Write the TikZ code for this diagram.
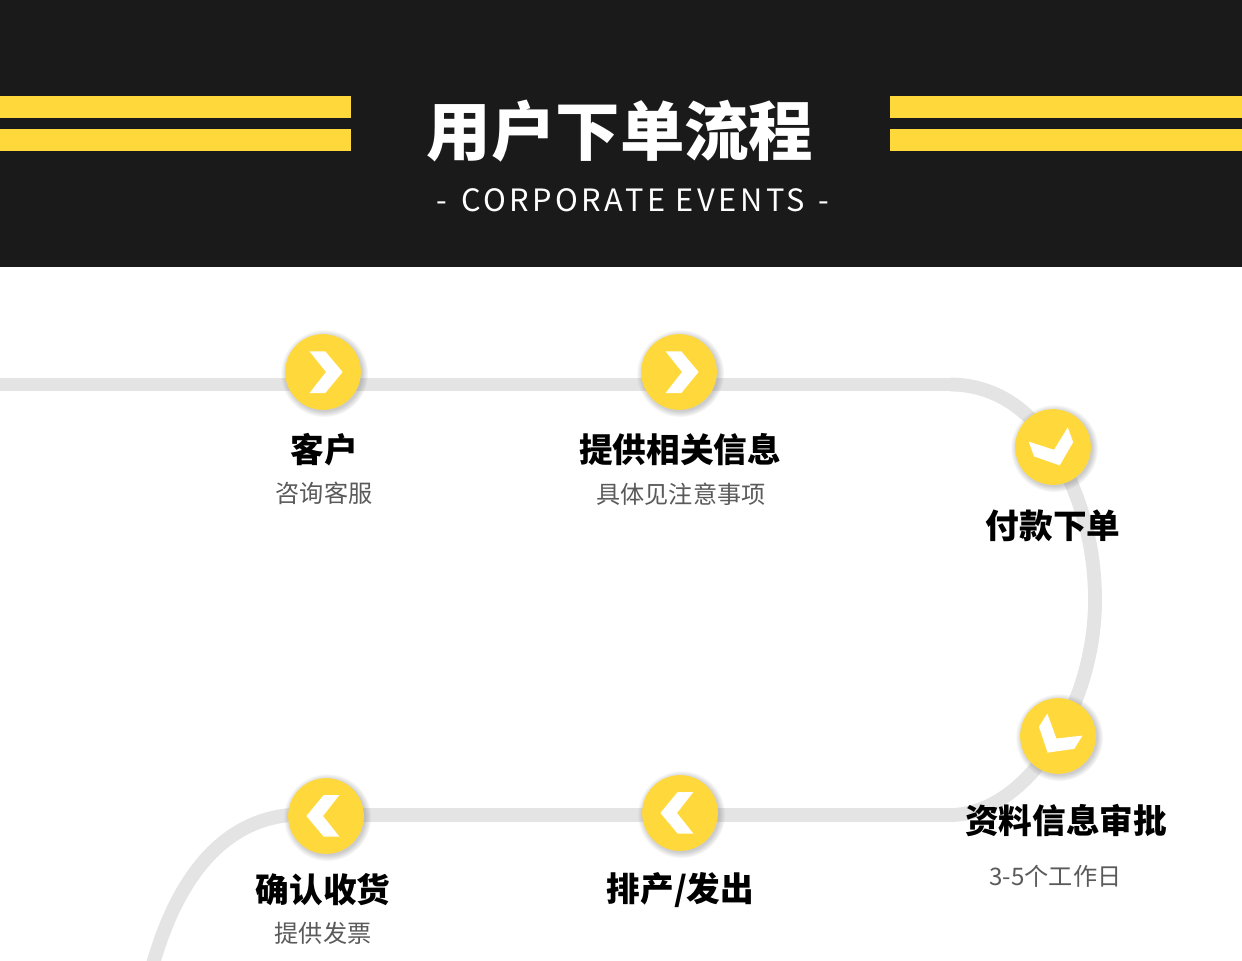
\documentclass[tikz,border=0pt]{standalone}
\usepackage{fontspec}
\setmainfont{Noto Sans CJK SC}
\usetikzlibrary{backgrounds,shadows}
\definecolor{bandblack}{HTML}{1A1A1A}
\definecolor{signyellow}{HTML}{FFD93B}
\definecolor{trackgray}{HTML}{E4E4E4}
\definecolor{notegray}{HTML}{5A5A5A}
\tikzset{
    stopdot/.style={circle, fill=signyellow, minimum size=43.1pt, inner sep=0pt,
        circular drop shadow={shadow xshift=0.6pt, shadow yshift=-0.6pt, shadow scale=1.16, opacity=0.4}},
    stoptitle/.style={font=\fontsize{19.15}{20}\selectfont\bfseries, text=black, inner sep=0pt},
    stopnote/.style={font=\fontsize{13.75}{15}\selectfont, text=notegray, inner sep=0pt},
    track/.style={line width=7.9pt, draw=trackgray},
    chevron/.style={fill=white},
}
\begin{document}
\begin{tikzpicture}[x=0.02cm, y=-0.02cm]
    \useasboundingbox (0,0) rectangle (1242,961);
    \clip (0,0) rectangle (1242,961);

    % Title band
    \fill[bandblack] (0,0) rectangle (1242,267);
    \fill[signyellow] (0,96) rectangle (351,118);
    \fill[signyellow] (0,129) rectangle (351,151);
    \fill[signyellow] (890,96) rectangle (1242,118);
    \fill[signyellow] (890,129) rectangle (1242,151);
    \node[text=white, font=\fontsize{36.7}{38}\selectfont\bfseries, inner sep=0pt] (headline) at (620,131) {用户下单流程};
    \node[text=white, font=\fontsize{17.5}{19}\addfontfeatures{LetterSpace=11.5}, inner sep=0pt] (subline) at (633,200) {-\hspace{2pt} CORPORATE EVENTS \hspace{2pt}-};

    % Stops
    \node[stopdot] (kefu) at (323,372) {};
    \node[stopdot] (xinxi) at (679,372) {};
    \node[stopdot] (fukuan) at (1053,447) {};
    \node[stopdot] (shenpi) at (1058,736) {};
    \node[stopdot] (fachu) at (680,813) {};
    \node[stopdot] (shouhuo) at (326,816) {};

    % Chevrons
    \fill[chevron, shift={(kefu.center)}] (-13.4,-20.6) -- (2.3,-20.6) -- (19.6,0) -- (2.3,21) -- (-13.4,21) -- (3,0) -- cycle;
    \fill[chevron, shift={(xinxi.center)}] (-13.4,-20.6) -- (2.3,-20.6) -- (19.6,0) -- (2.3,21) -- (-13.4,21) -- (3,0) -- cycle;
    \fill[chevron, shift={(fukuan.center)}, rotate=-70] (-13.4,-20.6) -- (2.3,-20.6) -- (19.6,0) -- (2.3,21) -- (-13.4,21) -- (3,0) -- cycle;
    \fill[chevron, shift={(shenpi.center)}, rotate=-122] (-13.4,-20.6) -- (2.3,-20.6) -- (19.6,0) -- (2.3,21) -- (-13.4,21) -- (3,0) -- cycle;
    \fill[chevron, shift={(fachu.center)}, rotate=180] (-13.4,-20.6) -- (2.3,-20.6) -- (19.6,0) -- (2.3,21) -- (-13.4,21) -- (3,0) -- cycle;
    \fill[chevron, shift={(shouhuo.center)}, rotate=180] (-13.4,-20.6) -- (2.3,-20.6) -- (19.6,0) -- (2.3,21) -- (-13.4,21) -- (3,0) -- cycle;

    % Labels
    \node[stoptitle] (kefut) at (324,450) {客户};
    \node[stopnote] (kefun) at (324,493) {咨询客服};
    \node[stoptitle] (xinxit) at (680,450) {提供相关信息};
    \node[stopnote] (xinxin) at (681,494) {具体见注意事项};
    \node[stoptitle] (fukuant) at (1053,526) {付款下单};
    \node[stoptitle] (shenpit) at (1066,821) {资料信息审批};
    \node[stopnote] (shenpin) at (1055.5,876) {3-5个工作日};
    \node[stoptitle] (fachut) at (680.5,890) {排产/发出};
    \node[stoptitle] (shouhuot) at (323,890) {确认收货};
    \node[stopnote] (shouhuon) at (323,933) {提供发票};

    % Track ends and bends
    \coordinate (trackin) at (0,384.5);
    \coordinate (bendtop) at (950,384.5);
    \coordinate (bendmid) at (1095,600);
    \coordinate (bendlow) at (950,815);
    \coordinate (bendleft) at (290,815);
    \coordinate (trackout) at (150,975);

    % Track, behind the stops
    \begin{scope}[on background layer]
        \draw[track] (trackin) -- (bendtop);
        \draw[track] (bendtop) .. controls (995,384.5) and (1030,410) .. (fukuan.center);
        \draw[track] (fukuan.center) .. controls (1078,490) and (1095,540) .. (bendmid);
        \draw[track] (bendmid) .. controls (1095,650) and (1080,700) .. (shenpi.center);
        \draw[track] (shenpi.center) .. controls (1030,785) and (990,815) .. (bendlow);
        \draw[track] (bendlow) -- (bendleft);
        \draw[track] (bendleft) .. controls (215,822) and (172,890) .. (trackout);
    \end{scope}
\end{tikzpicture}
\end{document}
